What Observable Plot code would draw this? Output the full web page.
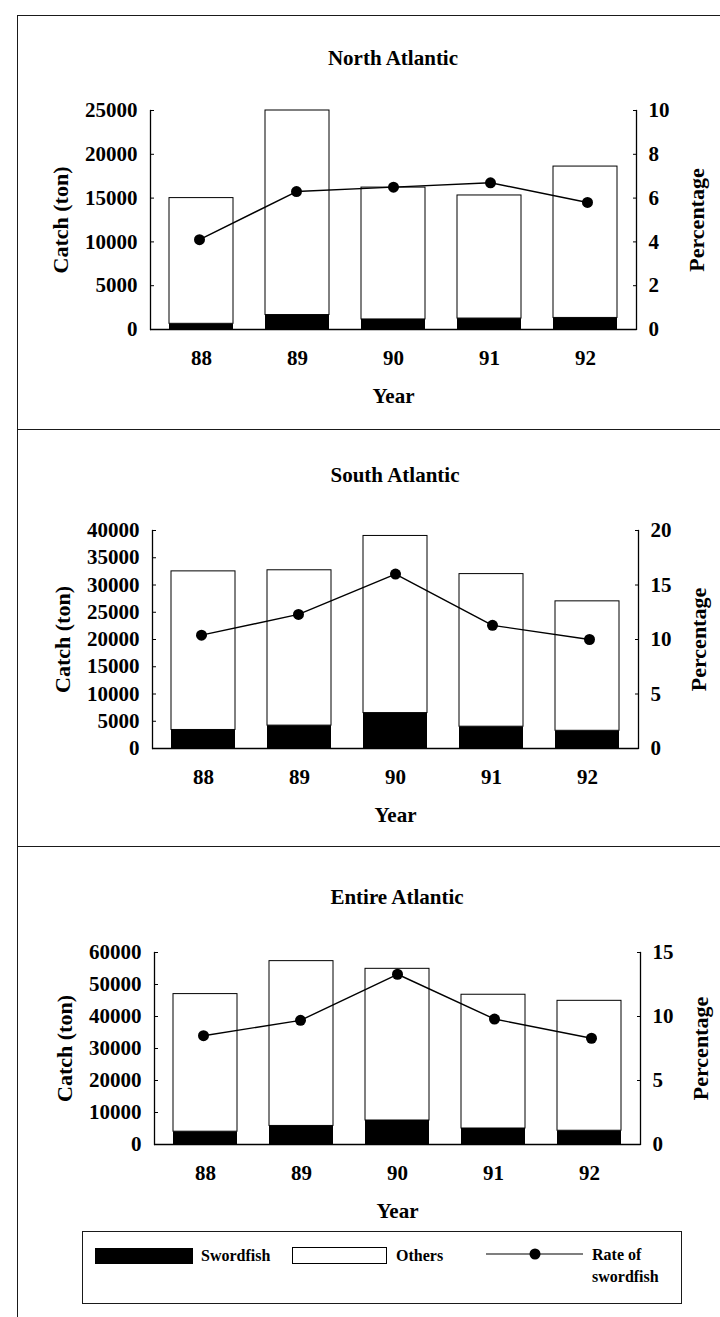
<!DOCTYPE html>
<html><head><meta charset="utf-8">
<script src="https://cdn.jsdelivr.net/npm/d3@7"></script>
<script src="https://cdn.jsdelivr.net/npm/@observablehq/plot@0.6"></script>
<style>
body{margin:0;background:#fff;}
#page{position:relative;width:720px;height:1317px;overflow:hidden;font-family:"Liberation Serif","Times New Roman",serif;color:#000;background:#fff}
.hl{position:absolute;height:0;border-top:1.6px solid #1a1a1a}
.vl{position:absolute;width:0;border-left:1.6px solid #1a1a1a}
.ttl{position:absolute;left:0;text-align:center;font-weight:bold;font-size:21px;line-height:22px}
.panel{position:absolute;left:0}
.panel svg{position:absolute;left:0;top:0;overflow:visible}
.lg{position:absolute;font-weight:bold;font-size:16px;line-height:18px}
</style></head><body><div id="page"></div>
<script>
// ---- data ----
const years = ["88", "89", "90", "91", "92"];
const panelTitles = ["North Atlantic", "South Atlantic", "Entire Atlantic"];

const northTotal = [15000, 25000, 16200, 15300, 18600];
const northSword = [650, 1650, 1150, 1250, 1320];
const northRate  = [4.1, 6.3, 6.5, 6.7, 5.8];

const southTotal = [32500, 32700, 39000, 32000, 27000];
const southSword = [3400, 4200, 6500, 4000, 3250];
const southRate  = [10.4, 12.3, 16.0, 11.3, 10.0];

const entireTotal = [47000, 57300, 54900, 46800, 44900];
const entireSword = [4000, 5800, 7500, 5000, 4300];
const entireRate  = [8.5, 9.7, 13.3, 9.8, 8.3];

const catchTicks = [
  [0, 5000, 10000, 15000, 20000, 25000],
  [0, 5000, 10000, 15000, 20000, 25000, 30000, 35000, 40000],
  [0, 10000, 20000, 30000, 40000, 50000, 60000]
];
const rateTicks = [
  [0, 2, 4, 6, 8, 10],
  [0, 5, 10, 15, 20],
  [0, 5, 10, 15]
];
const legendLabels = ["Swordfish", "Others", "Rate of", "swordfish"];

// ---- layout ----
const page = document.getElementById("page");
function el(cls, css, html) {
  const d = document.createElement("div");
  d.className = cls; Object.assign(d.style, css);
  if (html != null) d.textContent = html;
  page.appendChild(d); return d;
}
// frame lines of the scanned figure
el("hl", {left: "17px", top: "15px", width: "703px"});
el("vl", {left: "17px", top: "15px", height: "1302px"});
el("hl", {left: "17px", top: "429px", width: "703px"});
el("hl", {left: "17px", top: "846px", width: "703px"});

const layout = [
  {top: 20,  h: 400, mt: 90,  mb: 91, ml: 150, mr: 84, titleY: 58},
  {top: 432, h: 410, mt: 98,  mb: 94, ml: 152, mr: 82, titleY: 475},
  {top: 848, h: 380, mt: 104, mb: 84, ml: 154, mr: 80, titleY: 897}
];
const series = [
  [northTotal, northSword, northRate],
  [southTotal, southSword, southRate],
  [entireTotal, entireSword, entireRate]
];

const font = {fontFamily: '"Liberation Serif", "Times New Roman", serif', fontSize: "21px", fontWeight: "bold", background: "transparent", overflow: "visible", color: "#000"};

series.forEach(([total, sword, rate], i) => {
  const L = layout[i];
  const rows = years.map((y, j) => ({year: y, total: total[j], sword: sword[j], rate: rate[j]}));
  const cx = (L.ml + 720 - L.mr) / 2;
  el("ttl", {top: (L.titleY - 11) + "px", width: (2 * cx) + "px"}, panelTitles[i]);

  const wrap = el("panel", {top: L.top + "px", width: "720px", height: L.h + "px"});
  const common = {
    width: 720, height: L.h,
    marginTop: L.mt, marginBottom: L.mb, marginLeft: L.ml, marginRight: L.mr,
    style: font
  };
  const cTicks = catchTicks[i], rTicks = rateTicks[i];

  const barsPlot = Plot.plot({
    ...common,
    x: {domain: years, paddingInner: 0.33, paddingOuter: 0.175},
    y: {domain: [0, cTicks[cTicks.length - 1]]},
    marks: [
      Plot.barY(rows, {x: "year", y1: 0, y2: "sword", fill: "black"}),
      Plot.barY(rows, {x: "year", y1: "sword", y2: "total", fill: "white", stroke: "black", strokeWidth: 1}),
      Plot.ruleY([0], {stroke: "black", strokeWidth: 1.3}),
      Plot.frame({anchor: "left", stroke: "black", strokeWidth: 1.3}),
      Plot.axisY(cTicks, {anchor: "left", tickSize: -4, tickFormat: () => "", label: null}),
      Plot.axisY(cTicks, {anchor: "left", tickSize: 0, tickPadding: 13, tickFormat: d => String(d), label: null, fontSize: 21}),
      Plot.axisY([], {anchor: "left", tickSize: 0, label: "Catch (ton)", labelAnchor: "center",
        labelOffset: 98, labelArrow: "none", fontSize: 22}),
      Plot.axisX({tickSize: 0, tickPadding: 21, label: null, fontSize: 21}),
      Plot.axisX([], {tickSize: 0, label: "Year", labelAnchor: "center", labelOffset: 73, labelArrow: "none", fontSize: 21})
    ]
  });
  const ratePlot = Plot.plot({
    ...common,
    x: {domain: years, paddingInner: 0.33, paddingOuter: 0.175, axis: null},
    y: {domain: [0, rTicks[rTicks.length - 1]]},
    marks: [
      Plot.line(rows, {x: "year", y: "rate", stroke: "black", strokeWidth: 1.4}),
      Plot.dot(rows, {x: "year", y: "rate", r: 5.5, fill: "black"}),
      Plot.frame({anchor: "right", stroke: "black", strokeWidth: 1.3}),
      Plot.axisY(rTicks, {anchor: "right", tickSize: -4, tickFormat: () => "", label: null}),
      Plot.axisY(rTicks, {anchor: "right", tickSize: 0, tickPadding: 12, tickFormat: d => String(d), label: null, fontSize: 21}),
      Plot.axisY([], {anchor: "right", tickSize: 0, label: "Percentage", labelAnchor: "center",
        labelOffset: 67, labelArrow: "none", fontSize: 22})
    ]
  });
  wrap.appendChild(barsPlot);
  wrap.appendChild(ratePlot);
});

// ---- legend ----
el("", {position: "absolute", left: "82px", top: "1231px", width: "600px", height: "73px", border: "1.3px solid #1a1a1a", boxSizing: "border-box"});
el("", {position: "absolute", left: "95px", top: "1248px", width: "98px", height: "16px", background: "#000"});
el("lg", {left: "201px", top: "1247px"}, legendLabels[0]);
el("", {position: "absolute", left: "292px", top: "1247px", width: "95px", height: "17px", border: "1px solid #000", boxSizing: "border-box", background: "#fff"});
el("lg", {left: "396px", top: "1247px"}, legendLabels[1]);
const ns = "http://www.w3.org/2000/svg";
const lsvg = document.createElementNS(ns, "svg");
lsvg.setAttribute("width", "110"); lsvg.setAttribute("height", "20");
Object.assign(lsvg.style, {position: "absolute", left: "480px", top: "1244px"});
lsvg.innerHTML = '<line x1="6" x2="103" y1="10" y2="10" stroke="#000" stroke-width="1.2"/><circle cx="55" cy="10" r="5.5" fill="#000"/>';
page.appendChild(lsvg);
el("lg", {left: "592px", top: "1246px"}, legendLabels[2]);
el("lg", {left: "592px", top: "1268px"}, legendLabels[3]);
</script>
</body></html>
